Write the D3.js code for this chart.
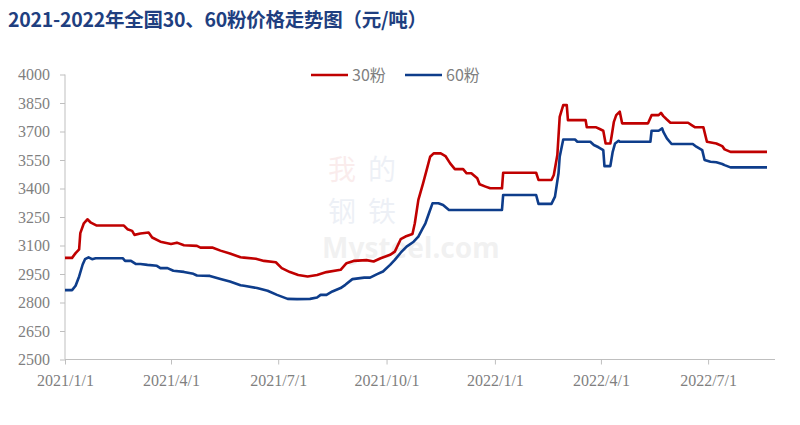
<!DOCTYPE html>
<html><head><meta charset="utf-8">
<script src="https://cdn.jsdelivr.net/npm/d3@7/dist/d3.min.js"></script>
<style>html,body{margin:0;padding:0;background:#fff;}svg{display:block;}</style>
</head><body><svg id="c" width="800" height="425"></svg>
<script>
const title = "2021-2022年全国30、60粉价格走势图（元/吨）";
const seriesNames = ["30粉", "60粉"];
const yTicks = [2500, 2650, 2800, 2950, 3100, 3250, 3400, 3550, 3700, 3850, 4000];
const xTickDates = ["2021-01-01","2021-04-01","2021-07-01","2021-10-01","2022-01-01","2022-04-01","2022-07-01"];

const dates30 = ["2021-01-01","2021-01-07","2021-01-10","2021-01-13","2021-01-14","2021-01-17","2021-01-20","2021-01-23","2021-01-28","2021-02-20","2021-02-23","2021-02-27","2021-03-01","2021-03-06","2021-03-13","2021-03-16","2021-03-23","2021-04-01","2021-04-06","2021-04-12","2021-04-23","2021-04-26","2021-05-06","2021-05-13","2021-05-21","2021-05-30","2021-06-02","2021-06-12","2021-06-19","2021-06-29","2021-07-04","2021-07-11","2021-07-18","2021-07-26","2021-08-03","2021-08-11","2021-08-23","2021-08-28","2021-09-03","2021-09-14","2021-09-20","2021-09-26","2021-10-04","2021-10-08","2021-10-13","2021-10-17","2021-10-23","2021-10-25","2021-10-28","2021-11-01","2021-11-04","2021-11-07","2021-11-10","2021-11-16","2021-11-20","2021-11-24","2021-11-28","2021-12-05","2021-12-08","2021-12-12","2021-12-17","2021-12-19","2021-12-24","2021-12-28","2022-01-07","2022-01-08","2022-02-05","2022-02-07","2022-02-18","2022-02-20","2022-02-23","2022-02-25","2022-02-28","2022-03-03","2022-03-04","2022-03-19","2022-03-20","2022-03-28","2022-03-31","2022-04-03","2022-04-05","2022-04-09","2022-04-10","2022-04-12","2022-04-14","2022-04-17","2022-04-19","2022-05-11","2022-05-14","2022-05-20","2022-05-22","2022-05-24","2022-05-27","2022-05-30","2022-06-14","2022-06-17","2022-06-20","2022-06-27","2022-06-30","2022-07-08","2022-07-13","2022-07-15","2022-07-20","2022-08-20"];
const values30 = [3035,3035,3060,3080,3165,3217,3238,3220,3205,3205,3186,3177,3156,3163,3168,3142,3120,3108,3115,3101,3098,3089,3089,3073,3058,3038,3036,3030,3019,3012,2981,2960,2945,2937,2945,2960,2972,3007,3019,3023,3016,3033,3051,3068,3133,3147,3161,3217,3340,3427,3497,3567,3585,3585,3571,3532,3502,3502,3480,3480,3454,3422,3410,3401,3401,3483,3483,3445,3445,3471,3576,3777,3839,3839,3760,3760,3722,3722,3713,3704,3637,3637,3672,3751,3786,3804,3743,3743,3786,3786,3798,3781,3763,3746,3746,3734,3722,3722,3646,3637,3623,3606,3593,3593];

const dates60 = ["2021-01-01","2021-01-07","2021-01-10","2021-01-13","2021-01-16","2021-01-18","2021-01-21","2021-01-24","2021-01-27","2021-02-19","2021-02-21","2021-02-26","2021-03-02","2021-03-06","2021-03-12","2021-03-20","2021-03-23","2021-03-29","2021-04-03","2021-04-12","2021-04-20","2021-04-23","2021-05-04","2021-05-13","2021-05-21","2021-05-30","2021-06-02","2021-06-13","2021-06-22","2021-06-30","2021-07-09","2021-07-17","2021-07-28","2021-08-03","2021-08-06","2021-08-11","2021-08-16","2021-08-23","2021-08-27","2021-09-02","2021-09-12","2021-09-17","2021-09-23","2021-09-28","2021-10-04","2021-10-08","2021-10-13","2021-10-18","2021-10-24","2021-10-28","2021-10-31","2021-11-03","2021-11-06","2021-11-09","2021-11-14","2021-11-18","2021-11-23","2022-01-07","2022-01-08","2022-02-05","2022-02-07","2022-02-18","2022-02-21","2022-02-24","2022-02-25","2022-02-28","2022-03-10","2022-03-12","2022-03-23","2022-03-26","2022-03-30","2022-04-03","2022-04-04","2022-04-09","2022-04-11","2022-04-13","2022-04-16","2022-04-17","2022-05-13","2022-05-14","2022-05-20","2022-05-23","2022-05-24","2022-05-27","2022-05-31","2022-06-18","2022-06-21","2022-06-26","2022-06-28","2022-07-03","2022-07-08","2022-07-13","2022-07-15","2022-07-20","2022-08-20"];
const values60 = [2865,2865,2888,2937,3000,3028,3038,3028,3033,3033,3019,3019,3003,3003,2998,2993,2981,2981,2967,2961,2951,2942,2940,2924,2910,2891,2888,2876,2862,2840,2819,2818,2819,2826,2840,2840,2858,2876,2893,2923,2931,2931,2949,2963,2998,3024,3062,3094,3120,3147,3182,3217,3270,3322,3322,3313,3287,3287,3366,3366,3319,3319,3357,3480,3567,3658,3658,3646,3646,3629,3617,3602,3518,3518,3593,3637,3651,3646,3646,3704,3704,3716,3698,3664,3634,3634,3620,3602,3550,3541,3538,3529,3523,3511,3511];

const colors = ["#C00000", "#0E3D8B"];
const parse = d3.timeParse("%Y-%m-%d");
const fmt = d3.timeFormat("%Y/%-m/%-d");

const svg = d3.select("#c");
const x = d3.scaleTime().domain([parse("2021-01-01"), parse("2022-08-20")]).range([65, 767]);
const y = d3.scaleLinear().domain([2500, 4000]).range([359.5, 74.5]);

// title
svg.append("text").attr("x", 8).attr("y", 27)
  .attr("font-family", "'Noto Sans CJK SC', 'Noto Sans', sans-serif")
  .attr("font-weight", "bold").attr("font-size", 19.5).attr("fill", "#1F3F80")
  .attr("textLength", 419).attr("lengthAdjust", "spacing")
  .text(title);

// watermark (faint)
const wm = svg.append("g").attr("opacity", 0.07).attr("font-family", "'Noto Sans CJK SC', sans-serif");
[["我",0,0,"#C00000"],["的",1,0,"#0E3D8B"],["钢",0,1,"#0E3D8B"],["铁",1,1,"#0E3D8B"]].forEach(([ch,i,j,c]) => {
  wm.append("text").attr("x", 342 + i*40).attr("y", 180 + j*42).attr("text-anchor","middle")
    .attr("font-size", 28).attr("fill", c).text(ch);
});
svg.append("text").attr("x", 322).attr("y", 258).attr("font-family","'Noto Sans', sans-serif")
  .attr("font-weight","bold").attr("font-size", 28).attr("fill","#000").attr("opacity",0.05).text("Mysteel.com");

// y axis
const yAxis = d3.axisLeft(y).tickValues(yTicks).tickSize(5).tickPadding(10).tickFormat(d3.format("d"));
const gy = svg.append("g").attr("transform", "translate(65,0)").call(yAxis);
gy.select(".domain").attr("stroke", "#BFBFBF").attr("d", `M0,${y(4000)}V${y(2500)}`);
gy.selectAll(".tick line").attr("stroke", "#BFBFBF");
gy.selectAll(".tick text").attr("font-family", "'Liberation Serif', 'Times New Roman', serif")
  .attr("font-size", 16).attr("fill", "#7F7F7F");

// x axis
const xAxis = d3.axisBottom(x).tickValues(xTickDates.map(parse)).tickSize(5).tickPadding(10).tickFormat(fmt);
const gx = svg.append("g").attr("transform", `translate(0,${y(2500)})`).call(xAxis);
gx.select(".domain").attr("stroke", "#BFBFBF").attr("d", "M65,0H775");
gx.selectAll(".tick line").attr("stroke", "#BFBFBF");
gx.selectAll(".tick text").attr("font-family", "'Liberation Serif', 'Times New Roman', serif")
  .attr("font-size", 16).attr("fill", "#7F7F7F");

// lines
const line = d3.line().x(d => x(d[0])).y(d => y(d[1]));
const data = [
  dates30.map((d,i) => [parse(d), values30[i]]),
  dates60.map((d,i) => [parse(d), values60[i]])
];
data.forEach((s, i) => {
  svg.append("path").datum(s).attr("d", line).attr("fill", "none")
    .attr("stroke", colors[i]).attr("stroke-width", 2.6).attr("stroke-linejoin", "round");
});

// legend
const leg = [[311, 352], [405, 446]];
seriesNames.forEach((n, i) => {
  svg.append("line").attr("x1", leg[i][0]).attr("x2", leg[i][0] + 37).attr("y1", 75).attr("y2", 75)
    .attr("stroke", colors[i]).attr("stroke-width", 2.6);
  svg.append("text").attr("x", leg[i][1]).attr("y", 81)
    .attr("font-family", "'Noto Sans CJK SC', sans-serif").attr("font-size", 16).attr("fill", "#7F7F7F").text(n);
});
</script></body></html>
